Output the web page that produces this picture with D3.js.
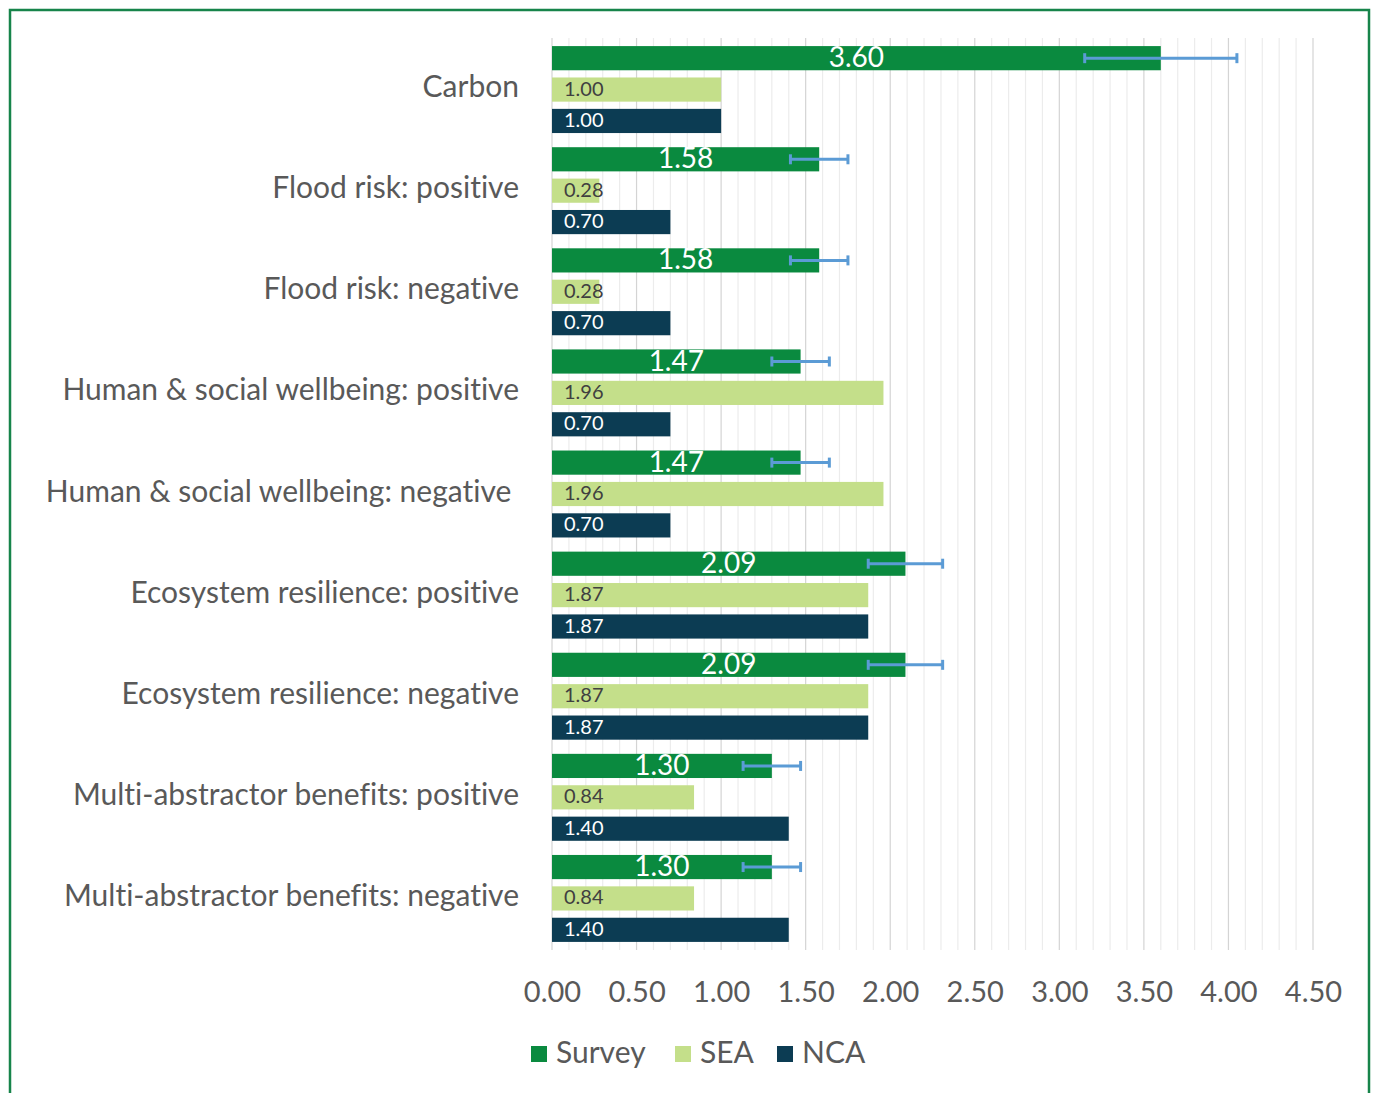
<!DOCTYPE html>
<html>
<head>
<meta charset="utf-8">
<script src="https://cdn.jsdelivr.net/npm/d3@7"></script>
<style>
  body { margin: 0; background: #fff; }
  svg { display: block; font-family: Lato, "Open Sans", sans-serif; font-variant-ligatures: none; }
  text { white-space: pre; }
</style>
</head>
<body>
<svg id="chart" width="1373" height="1093"></svg>
<script>
const categories = [
  "Carbon",
  "Flood risk: positive",
  "Flood risk: negative",
  "Human & social wellbeing: positive",
  "Human & social wellbeing: negative ",
  "Ecosystem resilience: positive",
  "Ecosystem resilience: negative",
  "Multi-abstractor benefits: positive",
  "Multi-abstractor benefits: negative"
];
const seriesNames = ["Survey", "SEA", "NCA"];
const surveyValues = [3.60, 1.58, 1.58, 1.47, 1.47, 2.09, 2.09, 1.30, 1.30];
const seaValues    = [1.00, 0.28, 0.28, 1.96, 1.96, 1.87, 1.87, 0.84, 0.84];
const ncaValues    = [1.00, 0.70, 0.70, 0.70, 0.70, 1.87, 1.87, 1.40, 1.40];
const surveyError  = [0.45, 0.17, 0.17, 0.17, 0.17, 0.22, 0.22, 0.17, 0.17];
const tickValues   = [0, 0.5, 1, 1.5, 2, 2.5, 3, 3.5, 4, 4.5];

const colors = { Survey: "#0a8a3f", SEA: "#c4df8a", NCA: "#0c3c53" };
const labelColors = { Survey: "#ffffff", SEA: "#404040", NCA: "#ffffff" };
const seriesValues = { Survey: surveyValues, SEA: seaValues, NCA: ncaValues };

const svg = d3.select("#chart");

// frame
svg.append("rect").attr("x", 10).attr("y", 10).attr("width", 1359).attr("height", 1100)
  .attr("fill", "none").attr("stroke", "#17844a").attr("stroke-width", 2.5);

const x = d3.scaleLinear().domain([0, 4.5]).range([552, 1313]);
const y0 = d3.scaleBand().domain(categories).range([38, 950]).paddingInner(0.14).paddingOuter(0.08);
const y1 = d3.scaleBand().domain(seriesNames).range([0, y0.bandwidth()]).paddingInner(0.23);

// gridlines
const minor = d3.range(0, 45 + 1).map(i => i / 10);
svg.append("g").selectAll("line").data(minor).join("line")
  .attr("x1", d => x(d)).attr("x2", d => x(d))
  .attr("y1", 38).attr("y2", 950)
  .attr("stroke", d => (Math.round(d * 10) % 5 === 0) ? "#d4d4d4" : "#ececec")
  .attr("stroke-width", 1.2);

// bars
const groups = svg.append("g").selectAll("g").data(categories).join("g")
  .attr("transform", d => `translate(0,${y0(d)})`);

groups.each(function(cat, i) {
  const g = d3.select(this);
  seriesNames.forEach(s => {
    const v = seriesValues[s][i];
    g.append("rect")
      .attr("x", x(0)).attr("y", y1(s))
      .attr("width", x(v) - x(0)).attr("height", y1.bandwidth())
      .attr("fill", colors[s]);
    if (s === "Survey") {
      g.append("text")
        .attr("x", (x(0) + x(v)) / 2).attr("y", y1(s) + y1.bandwidth() / 2 + 2)
        .attr("text-anchor", "middle").attr("dominant-baseline", "middle")
        .attr("fill", labelColors[s]).attr("font-size", 28)
        .text(v.toFixed(2));
      // error bar
      const e = surveyError[i];
      const cy = y1(s) + y1.bandwidth() / 2;
      const eg = g.append("g").attr("stroke", "#5b9bd5").attr("stroke-width", 3);
      eg.append("line").attr("x1", x(v - e)).attr("x2", x(v + e)).attr("y1", cy).attr("y2", cy);
      eg.append("line").attr("x1", x(v - e)).attr("x2", x(v - e)).attr("y1", cy - 5).attr("y2", cy + 5);
      eg.append("line").attr("x1", x(v + e)).attr("x2", x(v + e)).attr("y1", cy - 5).attr("y2", cy + 5);
    } else {
      g.append("text")
        .attr("x", x(0) + 12).attr("y", y1(s) + y1.bandwidth() / 2 + 1)
        .attr("dominant-baseline", "middle")
        .attr("fill", labelColors[s]).attr("font-size", 20)
        .text(v.toFixed(2));
    }
  });
});

// category labels
svg.append("g").selectAll("text").data(categories).join("text")
  .attr("x", 519).attr("y", d => y0(d) + y0.bandwidth() / 2)
  .attr("text-anchor", "end").attr("dominant-baseline", "middle")
  .attr("fill", "#595959").attr("font-size", 30)
  .text(d => d);

// x axis
const xAxis = d3.axisBottom(x).tickValues(tickValues).tickFormat(d3.format(".2f")).tickSize(0);
const ax = svg.append("g").attr("transform", "translate(0,978)").call(xAxis);
ax.select(".domain").remove();
ax.selectAll("text").attr("font-size", 29).attr("fill", "#595959").attr("font-family", "Lato, sans-serif");

// legend
const legendX = [531, 675, 777];
const leg = svg.append("g").selectAll("g").data(seriesNames).join("g")
  .attr("transform", (d, i) => `translate(${legendX[i]},1046)`);
leg.append("rect").attr("width", 16).attr("height", 16).attr("fill", d => colors[d]);
leg.append("text").attr("x", 25).attr("y", 9).attr("dominant-baseline", "middle")
  .attr("font-size", 30).attr("fill", "#595959").text(d => d);
</script>
</body>
</html>
